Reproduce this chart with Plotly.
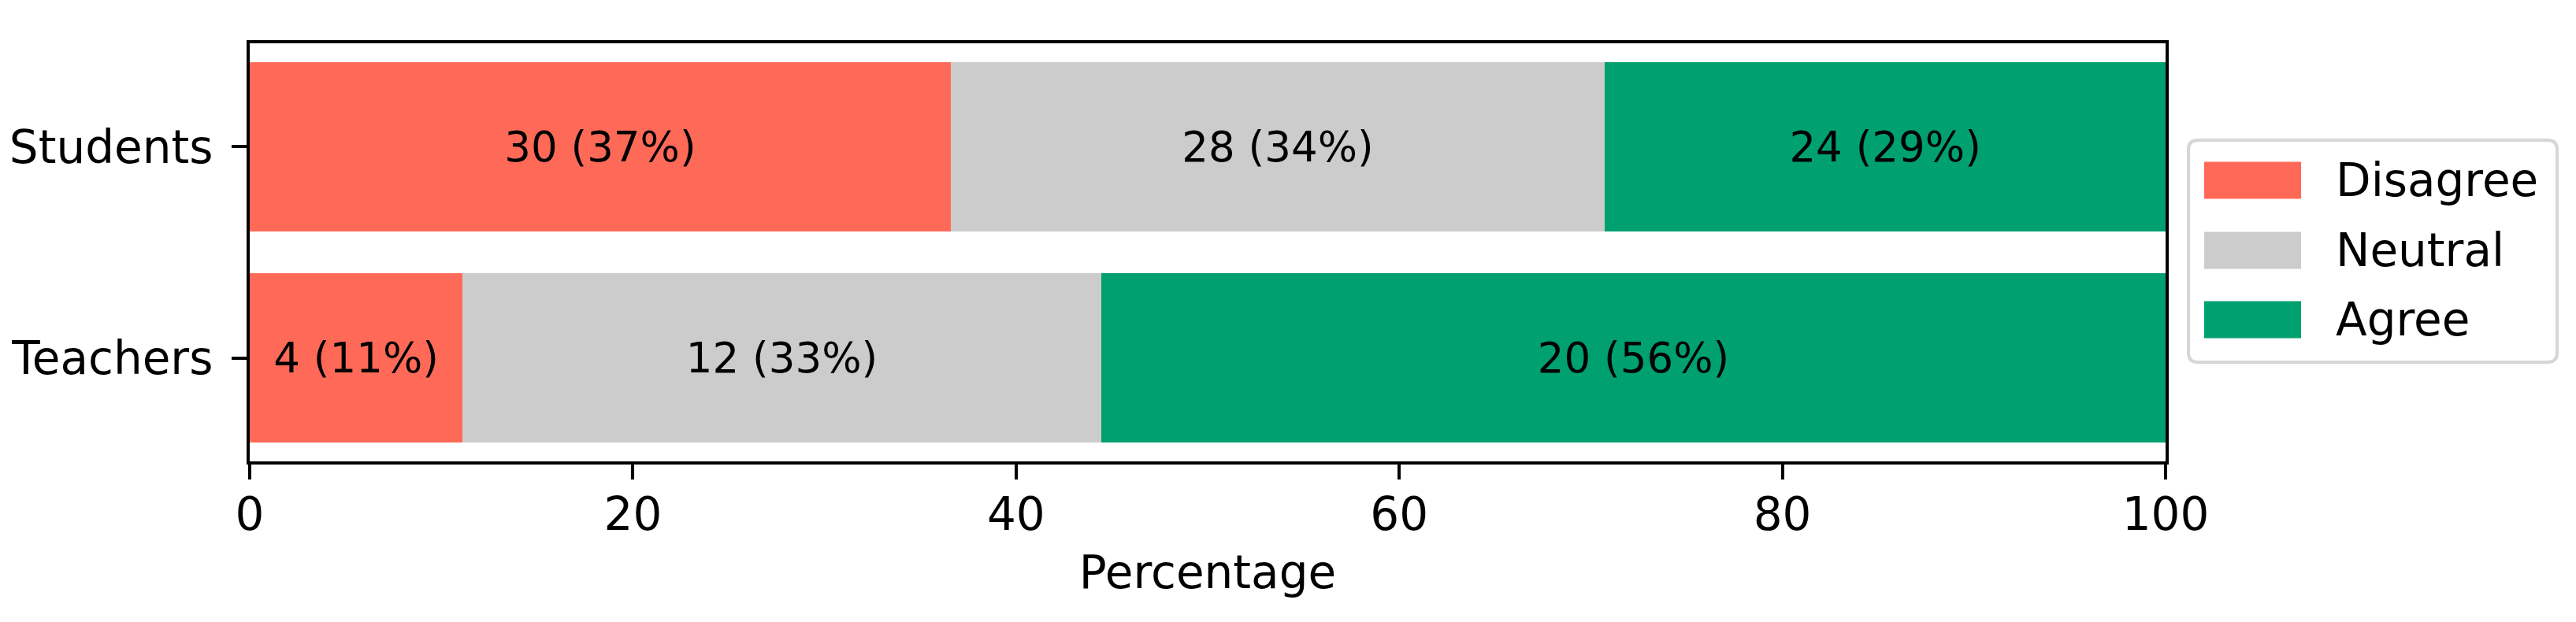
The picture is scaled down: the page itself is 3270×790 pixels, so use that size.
import plotly.graph_objects as go

# ---- data ----
groups = ["Teachers", "Students"]          # bottom to top
categories = ["Disagree", "Neutral", "Agree"]
disagree_counts = [4, 30]
neutral_counts = [12, 28]
agree_counts = [20, 24]
colors = ["#FF6A58", "#CCCCCC", "#00A070"]
x_ticks = [0, 20, 40, 60, 80, 100]

counts = [disagree_counts, neutral_counts, agree_counts]
totals = [sum(c[i] for c in counts) for i in range(len(groups))]

W, H = 3270, 790
ML, MR, MT, MB = 309, 3270 - 2741, 47, 790 - 578
PW, PH = W - ML - MR, H - MT - MB
FONT = "DejaVu Sans"
FS = 58
FS_BAR = 53

fig = go.Figure()
for name, cnt, col in zip(categories, counts, colors):
    pct = [c / t * 100 for c, t in zip(cnt, totals)]
    labels = [f"{c} ({round(p)}%)" for c, p in zip(cnt, pct)]
    fig.add_trace(go.Bar(
        y=groups, x=pct, name=name, orientation="h",
        marker=dict(color=col, line=dict(width=0)),
        text=labels, textposition="inside", insidetextanchor="middle",
        textangle=0, constraintext="none",
        textfont=dict(family=FONT, size=FS_BAR, color="black"),
        showlegend=False,
    ))

def px_x(p):
    return (p - ML) / PW

def px_y(p):
    return (H - MB - p) / PH

shapes = []
annotations = []
# legend frame (rounded)
bx0, bx1, by0, by1 = 2770, 3238, 170, 452
r = 12
path = (f"M {px_x(bx0 + r)},{px_y(by0)} L {px_x(bx1 - r)},{px_y(by0)} "
        f"Q {px_x(bx1)},{px_y(by0)} {px_x(bx1)},{px_y(by0 + r)} "
        f"L {px_x(bx1)},{px_y(by1 - r)} Q {px_x(bx1)},{px_y(by1)} {px_x(bx1 - r)},{px_y(by1)} "
        f"L {px_x(bx0 + r)},{px_y(by1)} Q {px_x(bx0)},{px_y(by1)} {px_x(bx0)},{px_y(by1 - r)} "
        f"L {px_x(bx0)},{px_y(by0 + r)} Q {px_x(bx0)},{px_y(by0)} {px_x(bx0 + r)},{px_y(by0)} Z")
shapes.append(dict(type="path", xref="paper", yref="paper", path=path,
                   line=dict(color="#D6D6D6", width=4), fillcolor="white", layer="above"))
centers = [221, 310, 398]
for name, col, cy in zip(categories, colors, centers):
    shapes.append(dict(type="rect", xref="paper", yref="paper",
                       x0=px_x(2790), x1=px_x(2913), y0=px_y(cy + 23.5), y1=px_y(cy - 23.5),
                       fillcolor=col, line=dict(width=0), layer="above"))
    annotations.append(dict(xref="paper", yref="paper", x=px_x(2955), y=px_y(cy),
                            xanchor="left", yanchor="middle", text=name, showarrow=False,
                            font=dict(family=FONT, size=FS, color="black")))

fig.update_layout(
    width=W, height=H,
    margin=dict(l=ML, r=MR, t=MT, b=MB, pad=0, autoexpand=False),
    barmode="stack", bargap=0.2,
    plot_bgcolor="white", paper_bgcolor="white",
    font=dict(family=FONT, size=FS, color="black"),
    uniformtext=dict(mode=False),
    shapes=shapes, annotations=annotations,
    xaxis=dict(
        range=[0, 100], tickvals=x_ticks, ticktext=[str(v) for v in x_ticks],
        showline=True, linecolor="black", linewidth=4, mirror=True,
        ticks="outside", ticklen=19, tickwidth=4, tickcolor="black",
        showgrid=False, zeroline=False, ticklabelstandoff=-6, automargin=False,
        tickfont=dict(family=FONT, size=FS, color="black"),
        title=dict(text="Percentage", font=dict(family=FONT, size=FS, color="black"), standoff=22),
    ),
    yaxis=dict(
        type="category", categoryorder="array", categoryarray=groups,
        range=[-0.49, 1.49],
        showline=True, linecolor="black", linewidth=4, mirror=True,
        ticks="outside", ticklen=19, tickwidth=4, tickcolor="black",
        showgrid=False, zeroline=False, ticklabelstandoff=12, automargin=False,
        tickfont=dict(family=FONT, size=FS, color="black"),
    ),
)

fig.write_html("out.html")
